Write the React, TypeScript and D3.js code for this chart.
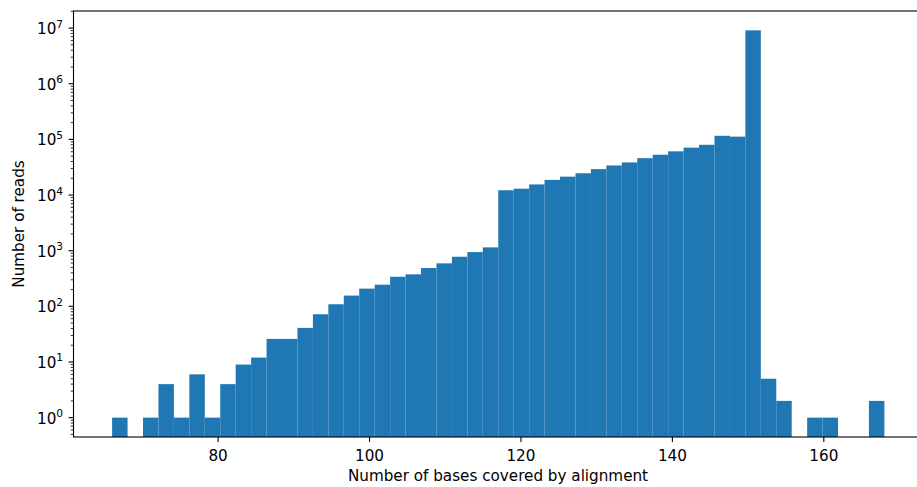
import React, { useEffect, useRef } from 'react';
import * as d3 from 'd3';

// histogram: 50 equal bins between binStart and binEnd
const binStart = 66;
const binEnd = 168;
const counts = [
    1, 0, 1, 4, 1, 6, 1, 4, 9, 12,
    26, 26, 41, 72, 109, 156, 208, 245, 340, 376,
    488, 592, 778, 944, 1146, 12200, 13000, 15500, 18700, 21400,
    24600, 29200, 34000, 38500, 46000, 53000, 61000, 71000, 80000, 116000,
    112000, 9100000, 5, 2, 0, 1, 1, 0, 0, 2
];
const xTicks = [80, 100, 120, 140, 160];
const yExponents = [0, 1, 2, 3, 4, 5, 6, 7];

const xLabel = 'Number of bases covered by alignment';
const yLabel = 'Number of reads';

const App = () => {
    const svgRef = useRef<SVGSVGElement>(null);

    useEffect(() => {
        document.body.style.margin = '0';
        const svg = d3.select(svgRef.current);
        svg.selectAll('*').remove();

        const width = 917;
        const height = 487;
        const left = 73.5, right = 923, top = 11, bottom = 437;
        const font = 'DejaVu Sans, sans-serif';
        const fs = 15.2;

        svg.attr('width', width).attr('height', height);

        const binW = (binEnd - binStart) / counts.length;
        const bins = counts.map((c, i) => ({ x0: binStart + i * binW, x1: binStart + (i + 1) * binW, c }));

        // matplotlib-ish 5% margins
        const xPad = (binEnd - binStart) * 0.05;
        const xScale = d3.scaleLinear()
            .domain([binStart - xPad, binEnd + xPad])
            .range([left, right]);

        const pos = counts.filter(c => c > 0);
        const lmin = Math.log10(d3.min(pos)!);
        const lmax = Math.log10(d3.max(pos)!);
        const lPad = (lmax - lmin) * 0.05;
        const yScale = d3.scaleLog()
            .domain([Math.pow(10, lmin - lPad), Math.pow(10, lmax + lPad)])
            .range([bottom, top]);

        // Bars
        svg.append('g')
            .selectAll('rect')
            .data(bins.filter(b => b.c > 0))
            .enter()
            .append('rect')
            .attr('x', d => xScale(d.x0))
            .attr('width', d => xScale(d.x1) - xScale(d.x0))
            .attr('y', d => yScale(d.c))
            .attr('height', d => bottom - yScale(d.c))
            .style('fill', '#1f77b4');

        // Spines
        svg.append('rect')
            .attr('x', left)
            .attr('y', top)
            .attr('width', right - left)
            .attr('height', bottom - top)
            .style('fill', 'none')
            .style('stroke', '#000')
            .style('stroke-width', 1.1);

        // X ticks
        const xg = svg.append('g');
        xTicks.forEach(t => {
            const x = xScale(t);
            xg.append('line')
                .attr('x1', x).attr('x2', x)
                .attr('y1', bottom).attr('y2', bottom + 4.9)
                .style('stroke', '#000').style('stroke-width', 1.1);
            xg.append('text')
                .attr('x', x)
                .attr('y', 460.5)
                .attr('text-anchor', 'middle')
                .style('font-family', font)
                .style('font-size', fs + 'px')
                .text(t);
        });

        // Y ticks (log, major + minor)
        const yg = svg.append('g');
        const [dmin, dmax] = yScale.domain();
        for (let e = -1; e <= 7; e++) {
            for (let m = 1; m <= 9; m++) {
                const v = m * Math.pow(10, e);
                if (v < dmin || v > dmax) continue;
                const y = yScale(v);
                const major = m === 1;
                yg.append('line')
                    .attr('x1', left).attr('x2', left - (major ? 4.9 : 2.8))
                    .attr('y1', y).attr('y2', y)
                    .style('stroke', '#000')
                    .style('stroke-width', major ? 1.1 : 0.8);
            }
        }
        yExponents.forEach(e => {
            const y = yScale(Math.pow(10, e));
            const t = yg.append('text')
                .attr('x', left - 4.9 - 5.5)
                .attr('y', y + 6)
                .attr('text-anchor', 'end')
                .style('font-family', font)
                .style('font-size', fs + 'px');
            t.append('tspan').text('10');
            t.append('tspan')
                .attr('dy', -6.5)
                .style('font-size', (fs * 0.7) + 'px')
                .text(e);
        });

        // Axis labels
        svg.append('text')
            .attr('x', 498)
            .attr('y', 481)
            .attr('text-anchor', 'middle')
            .style('font-family', font)
            .style('font-size', fs + 'px')
            .text(xLabel);

        svg.append('text')
            .attr('transform', `translate(24, ${(top + bottom) / 2}) rotate(-90)`)
            .attr('text-anchor', 'middle')
            .style('font-family', font)
            .style('font-size', fs + 'px')
            .text(yLabel);
    }, []);

    return (
        <div style={{ width: 917, height: 487, overflow: 'hidden' }}>
            <svg ref={svgRef} style={{ display: 'block' }}></svg>
        </div>
    );
};

export default App;
